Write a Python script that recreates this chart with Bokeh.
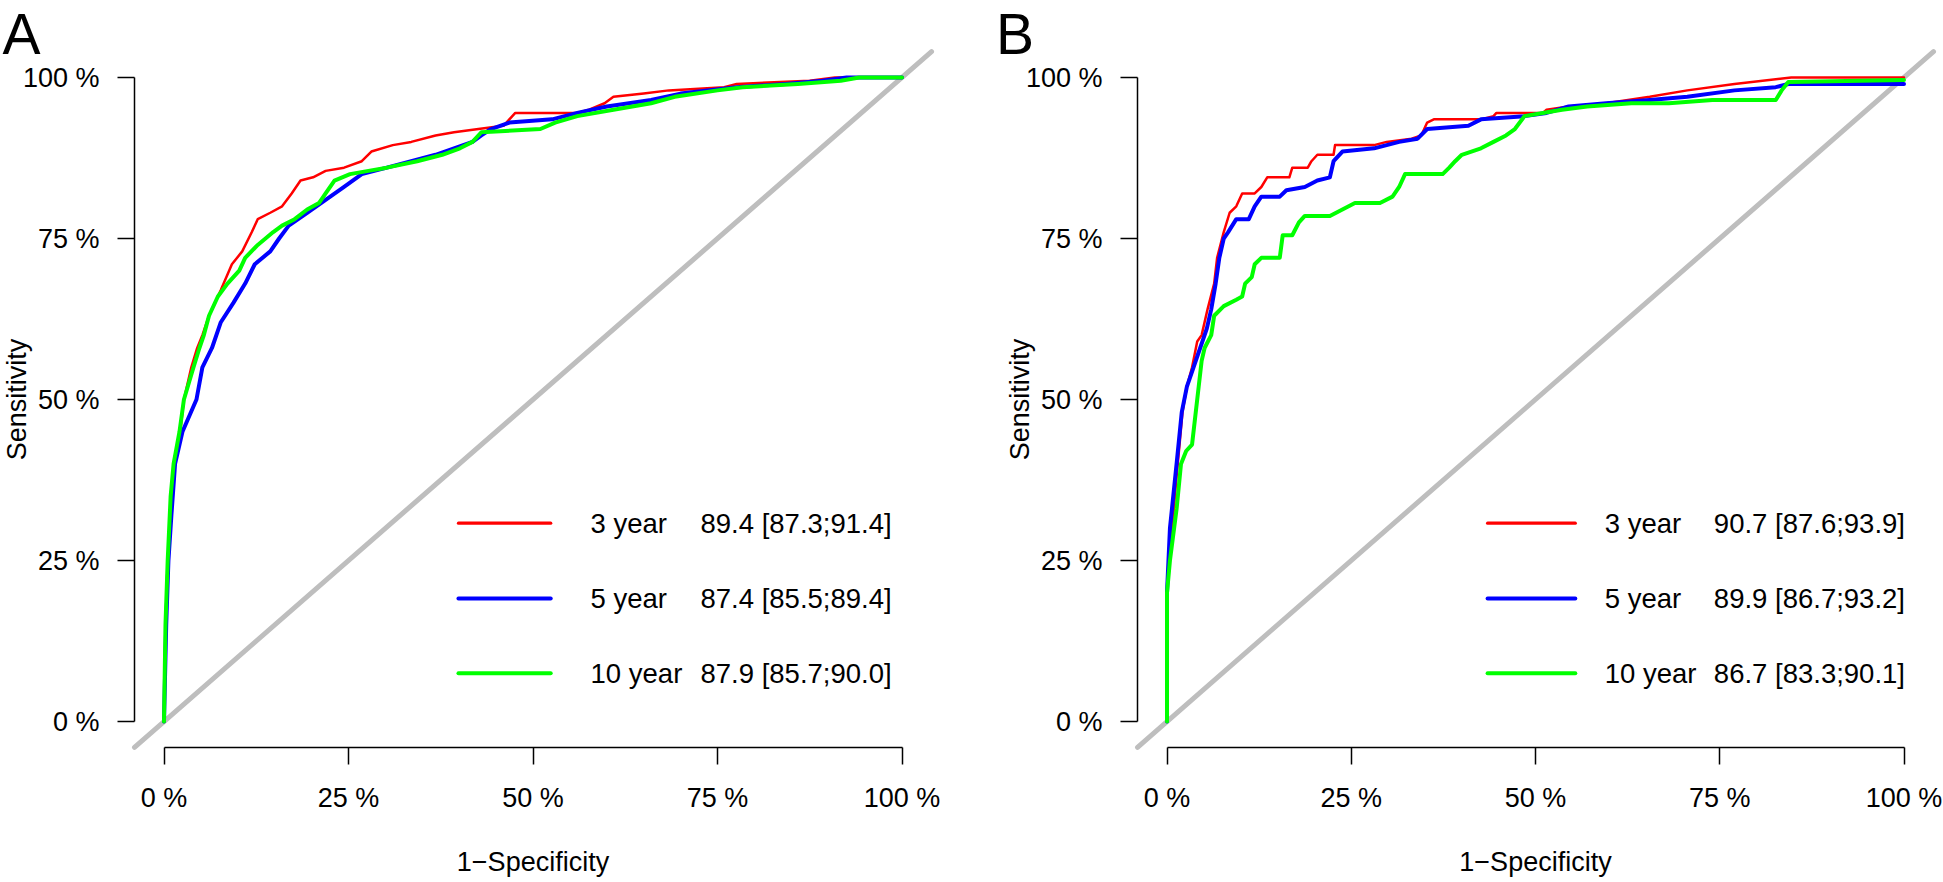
from bokeh.plotting import figure
from bokeh.layouts import row
from bokeh.models import Range1d, FixedTicker, CustomJSTickFormatter, Label
from bokeh.core.properties import value
from bokeh.embed import file_html
from bokeh.resources import INLINE

# ---------------- data (percent) ----------------
ticks = [0, 25, 50, 75, 100]
years = ["3 year", "5 year", "10 year"]
colors = ["#FF0000", "#0000FF", "#00FF00"]

A_auc = ["89.4 [87.3;91.4]", "87.4 [85.5;89.4]", "87.9 [85.7;90.0]"]
B_auc = ["90.7 [87.6;93.9]", "89.9 [86.7;93.2]", "86.7 [83.3;90.1]"]

A_3_fpr = [0, 0.2, 0.5, 1.0, 1.5, 2.2, 2.7, 3.7, 4.5, 5.2, 6.1, 7.7, 9.2, 10.6, 11.9, 12.7, 14.4, 16.0, 17.3, 18.5, 20.2, 21.9, 24.4, 26.8, 28.1, 31.0, 33.5, 36.8, 39.3, 42.6, 46.0, 47.6, 56.0, 57.6, 59.7, 60.9, 65.0, 68.4, 75.9, 77.6, 87.5, 90.9, 100]
A_3_tpr = [0, 15, 25, 35, 40, 45, 50, 55, 58, 60, 63, 67, 71, 73, 76, 78, 79, 80, 82, 84, 84.5, 85.5, 86, 87, 88.5, 89.5, 90, 91, 91.5, 92, 92.5, 94.5, 94.5, 95, 96, 97, 97.5, 98, 98.5, 99, 99.5, 100, 100]

A_5_fpr = [0, 0.3, 0.6, 1.0, 1.5, 2.5, 4.4, 5.2, 6.5, 7.7, 9.4, 11.0, 12.3, 14.4, 15.6, 16.9, 19.4, 21.9, 24.4, 26.8, 30.2, 33.5, 36.8, 39.3, 41.8, 43.0, 44.3, 46.8, 52.6, 56.0, 60.0, 66.0, 70.0, 77.6, 84.2, 89.2, 92.5, 100]
A_5_tpr = [0, 15, 25, 32, 40, 45, 50, 55, 58, 62, 65, 68, 71, 73, 75, 77, 79, 81, 83, 85, 86, 87, 88, 89, 90, 91, 92, 93, 93.5, 94.5, 95.5, 96.5, 97.5, 98.5, 99, 99.5, 100, 100]

A_10_fpr = [0, 0.2, 0.5, 0.9, 1.3, 2.1, 2.7, 4.0, 4.8, 5.4, 6.1, 7.3, 8.6, 10.2, 11.0, 12.7, 14.8, 16.0, 17.7, 19.4, 21.0, 21.9, 23.1, 25.2, 27.7, 30.2, 34.3, 37.7, 40.1, 41.8, 43.0, 51.0, 53.0, 56.0, 60.9, 66.0, 69.2, 75.0, 78.4, 85.9, 91.7, 94.2, 100]
A_10_tpr = [0, 15, 25, 35, 40, 45, 50, 55, 58, 60, 63, 66, 68, 70, 72, 74, 76, 77, 78, 79.5, 80.5, 82, 84, 85, 85.5, 86, 87, 88, 89, 90, 91.5, 92, 93, 94, 95, 96, 97, 98, 98.5, 99, 99.5, 100, 100]

B_3_fpr = [0, 0, 0.7, 1.3, 2.1, 2.7, 3.4, 4.1, 4.7, 5.5, 6.4, 6.8, 7.7, 8.5, 9.4, 10.2, 11.9, 12.8, 13.6, 16.6, 17.0, 19.1, 19.6, 20.4, 22.6, 22.8, 28.1, 29.8, 33.2, 34.5, 35.3, 36.2, 42.6, 44.3, 44.7, 51.0, 51.5, 54.5, 59.6, 65.5, 70.6, 77.0, 84.7, 100]
B_3_tpr = [0, 20, 30, 38, 48, 52, 55, 59, 60, 64, 68, 72, 76, 79, 80, 82, 82, 83, 84.5, 84.5, 86, 86, 87, 88, 88, 89.5, 89.5, 90, 90.5, 91, 93, 93.5, 93.5, 94, 94.5, 94.5, 95, 95.5, 96, 97, 98, 99, 100, 100]

B_5_fpr = [0, 0, 0.4, 1.3, 2.0, 2.7, 3.6, 4.5, 5.4, 6.0, 6.6, 7.1, 7.7, 8.3, 9.4, 11.1, 11.9, 12.8, 15.3, 16.2, 18.7, 20.4, 22.1, 22.6, 23.8, 28.1, 29.8, 31.5, 34.0, 35.3, 40.9, 42.6, 48.5, 51.5, 54.5, 59.6, 65.5, 70.6, 77.0, 82.6, 84.3, 100]
B_5_tpr = [0, 20, 30, 40, 48, 52, 55, 58, 61, 64, 68, 72, 75, 76, 78, 78, 80, 81.5, 81.5, 82.5, 83, 84, 84.5, 87, 88.5, 89, 89.5, 90, 90.5, 92, 92.5, 93.5, 94, 94.5, 95.5, 96, 96.5, 97, 98, 98.5, 99, 99]

B_10_fpr = [0, 0, 0.4, 1.3, 1.9, 2.6, 3.4, 3.8, 4.3, 4.7, 5.1, 6.0, 6.4, 7.7, 9.4, 10.2, 10.6, 11.5, 11.9, 12.8, 15.3, 15.7, 17.0, 17.9, 18.7, 22.1, 23.8, 25.5, 28.9, 30.6, 31.5, 32.3, 37.4, 38.3, 39.1, 40.0, 42.6, 44.3, 46.0, 47.2, 48.5, 51.0, 53.6, 57.0, 63.0, 68.1, 74.0, 82.6, 83.4, 84.3, 100]
B_10_tpr = [0, 20, 25, 33, 40, 42, 43, 47, 52, 56, 58, 60, 63, 64.5, 65.5, 66, 68, 69, 71, 72, 72, 75.5, 75.5, 77.5, 78.5, 78.5, 79.5, 80.5, 80.5, 81.5, 83, 85, 85, 86, 87, 88, 89, 90, 91, 92, 94, 94.5, 95, 95.5, 96, 96, 96.5, 96.5, 98, 99.3, 99.6]

FONT = "Liberation Sans"
H = 880          # figure height (px)
Y0, YS = 721.0, 6.44   # pixel row of 0 %, pixels per percent


def make_panel(W, X0, XS, curves, auc, letter, letter_px, leg_x0, leg_x1, year_x, auc_x):
    # frame covers the whole canvas; axes are pinned with fixed_location
    xr = Range1d(-X0 / XS, (W - X0) / XS)
    yr = Range1d((Y0 - H) / YS, Y0 / YS)
    p = figure(width=W, height=H, x_range=xr, y_range=yr,
               output_backend="svg", toolbar_location=None,
               min_border=0, min_border_left=0, min_border_right=0,
               min_border_top=0, min_border_bottom=0)
    p.outline_line_color = None
    p.xgrid.visible = False
    p.ygrid.visible = False
    p.background_fill_color = "white"
    p.border_fill_color = "white"
    fmt = CustomJSTickFormatter(code="return tick + ' %';")
    for ax in (p.xaxis[0], p.yaxis[0]):
        ax.ticker = FixedTicker(ticks=ticks)
        ax.bounds = (0, 100)
        ax.fixed_location = -4
        ax.formatter = fmt
        ax.axis_line_color = "black"
        ax.axis_line_width = 1.5
        ax.major_tick_line_color = "black"
        ax.major_tick_line_width = 1.5
        ax.major_tick_out = 17
        ax.major_tick_in = 0
        ax.minor_tick_line_color = None
        ax.major_label_text_font = FONT
        ax.major_label_text_font_size = "27px"
        ax.major_label_text_color = "black"
    p.xaxis[0].major_label_standoff = 19
    p.yaxis[0].major_label_standoff = 18
    p.yaxis[0].major_label_orientation = "horizontal"

    # reference diagonal (plot region is -4 .. 104)
    p.line([-4, 104], [-4, 104], line_color="#BEBEBE", line_width=5, line_cap="round")

    widths = [2.5, 4, 4]
    for (fx, ty), c, w in zip(curves, colors, widths):
        p.line(fx, ty, line_color=c, line_width=w, line_join="round", line_cap="round")

    # legend
    leg_y = [30.8, 19.1, 7.5]
    lw = [3.2, 4, 4]
    for yy, c, w in zip(leg_y, colors, lw):
        p.line([leg_x0, leg_x1], [yy, yy], line_color=c, line_width=w, line_cap="round")
    p.text(x=[year_x] * 3, y=leg_y, text=years, text_font=value(FONT),
           text_font_size=value("27.5px"), text_align="left", text_baseline="middle",
           text_color="black")
    p.text(x=[auc_x] * 3, y=leg_y, text=auc, text_font=value(FONT),
           text_font_size=value("27.5px"), text_align="left", text_baseline="middle",
           text_color="black")

    # panel letter, axis titles (anchored at the middle of the text)
    p.add_layout(Label(x=(letter_px - X0) / XS, y=(Y0 - 33) / YS, text=letter,
                       text_font=FONT, text_font_size="57px", text_align="left",
                       text_baseline="middle", text_color="black"))
    p.add_layout(Label(x=-19.9, y=50, text="Sensitivity", angle=1.5707963,
                       text_font=FONT, text_font_size="27px", text_align="center",
                       text_baseline="middle", text_color="black"))
    p.add_layout(Label(x=50, y=(Y0 - 861) / YS, text="1\u2212Specificity",
                       text_font=FONT, text_font_size="27px", text_align="center",
                       text_baseline="middle", text_color="black"))
    return p


pA = make_panel(970, 163.5, 7.38,
                [(A_3_fpr, A_3_tpr), (A_5_fpr, A_5_tpr), (A_10_fpr, A_10_tpr)],
                A_auc, "A", 2.0, 39.9, 52.4, 57.8, 72.7)
pB = make_panel(973, 196.5, 7.37,
                [(B_3_fpr, B_3_tpr), (B_5_fpr, B_5_tpr), (B_10_fpr, B_10_tpr)],
                B_auc, "B", 25.5, 43.5, 55.4, 59.4, 74.2)

layout = row(pA, pB)
open("out.html", "w").write(file_html(layout, INLINE))
